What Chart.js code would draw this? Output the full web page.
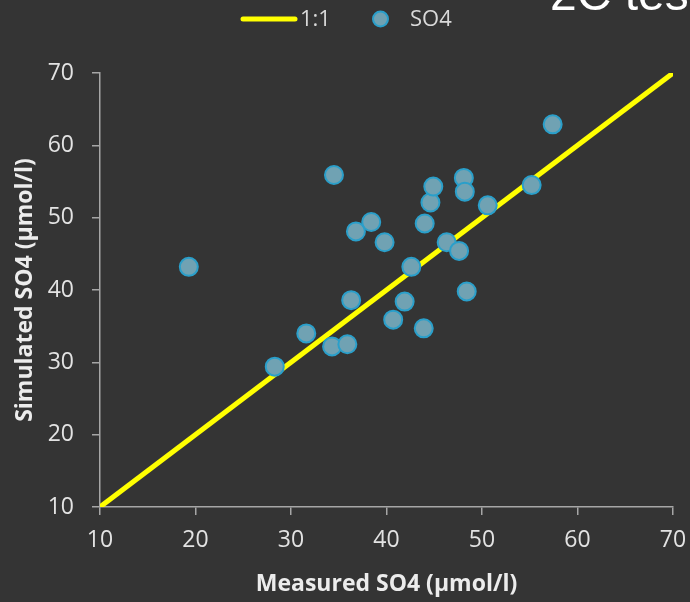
<!DOCTYPE html>
<html>
<head>
<meta charset="utf-8">
<script src="https://cdn.jsdelivr.net/npm/chart.js@4.4.0/dist/chart.umd.min.js"></script>
<style>
  html, body { margin: 0; padding: 0; background: #343434; }
  #wrap { position: relative; width: 690px; height: 602px; }
</style>
</head>
<body>
<div id="wrap"><canvas id="c" width="690" height="602"></canvas></div>
<script>
// ---- data ----
const measuredSO4 = [19.3, 28.3, 31.6, 34.5, 34.3, 35.9, 36.3, 36.8, 38.4, 39.8, 40.7, 41.9, 42.6, 44.0, 43.9, 44.6, 44.9, 46.3, 47.6, 48.1, 48.2, 48.4, 50.6, 55.2, 57.4];
const simulatedSO4 = [43.2, 29.4, 34.0, 55.9, 32.2, 32.5, 38.6, 48.1, 49.4, 46.6, 35.9, 38.4, 43.2, 49.2, 34.7, 52.1, 54.3, 46.6, 45.4, 55.5, 53.6, 39.8, 51.7, 54.5, 62.9];
const oneToOneX = [10, 70];
const oneToOneY = [10, 70];
const axisMin = 10, axisMax = 70, axisStep = 10;
const seriesNames = ['1:1', 'SO4'];
const xTitle = 'Measured SO4 (µmol/l)';
const yTitle = 'Simulated SO4 (µmol/l)';
const cornerText = '2C test';

const textColor = '#e3e3e3';
const axisColor = '#a6a6a6';
const pointFill = '#70a2b3';
const pointBorder = '#2a9fca';
const lineColor = '#ffff00';

const legendAndCorner = {
  id: 'legendAndCorner',
  afterDraw(chart) {
    const ctx = chart.ctx;
    ctx.save();
    // legend: line sample
    ctx.strokeStyle = lineColor;
    ctx.lineWidth = 5;
    ctx.lineCap = 'round';
    ctx.beginPath();
    ctx.moveTo(243, 19);
    ctx.lineTo(295, 19);
    ctx.stroke();
    ctx.fillStyle = '#d9d9d9';
    ctx.font = '22px "Open Sans"';
    ctx.textBaseline = 'middle';
    ctx.textAlign = 'left';
    ctx.fillText(seriesNames[0], 300, 20);
    // legend: point sample
    ctx.beginPath();
    ctx.arc(380.5, 19, 7.5, 0, Math.PI * 2);
    ctx.fillStyle = pointFill;
    ctx.fill();
    ctx.lineWidth = 2;
    ctx.strokeStyle = pointBorder;
    ctx.stroke();
    ctx.fillStyle = '#d9d9d9';
    ctx.fillText(seriesNames[1], 410, 20);
    // cropped corner text
    ctx.fillStyle = '#ffffff';
    ctx.font = '48px "Liberation Sans"';
    ctx.textBaseline = 'alphabetic';
    ctx.fillText(cornerText, 550, 10);
    ctx.restore();
  }
};

const bg = {
  id: 'bg',
  beforeDraw(chart) {
    const ctx = chart.ctx;
    ctx.save();
    ctx.fillStyle = '#343434';
    ctx.fillRect(0, 0, chart.width, chart.height);
    ctx.restore();
  }
};

const tickFont = { family: '"Open Sans"', size: 23 };
const titleFont = { family: '"Open Sans"', size: 23, weight: 'bold' };

new Chart(document.getElementById('c'), {
  type: 'scatter',
  data: {
    datasets: [
      {
        label: seriesNames[0],
        type: 'line',
        data: oneToOneX.map((x, i) => ({ x, y: oneToOneY[i] })),
        borderColor: lineColor,
        borderWidth: 5,
        pointRadius: 0,
        fill: false,
        order: 2
      },
      {
        label: seriesNames[1],
        data: measuredSO4.map((x, i) => ({ x, y: simulatedSO4[i] })),
        backgroundColor: pointFill,
        borderColor: pointBorder,
        borderWidth: 2,
        pointRadius: 9,
        pointHoverRadius: 9,
        order: 1
      }
    ]
  },
  options: {
    responsive: false,
    animation: false,
    layout: { padding: { top: 73, right: 17, left: 0, bottom: 0 } },
    plugins: { legend: { display: false }, tooltip: { enabled: false } },
    scales: {
      x: {
        type: 'linear',
        min: axisMin, max: axisMax,
        ticks: { stepSize: axisStep, color: textColor, font: tickFont, padding: 12 },
        grid: { display: true, drawOnChartArea: false, drawTicks: true, tickLength: 8, color: axisColor, lineWidth: 1.5 },
        border: { display: true, color: axisColor, width: 1.5 },
        title: { display: true, text: xTitle, color: '#ececec', font: titleFont, padding: { top: 0, bottom: 4 } },
        afterFit(scale) { scale.height = 95; scale.paddingRight = 0; scale.paddingLeft = 0; }
      },
      y: {
        type: 'linear',
        min: axisMin, max: axisMax,
        ticks: { stepSize: axisStep, color: textColor, font: tickFont, padding: 18 },
        grid: { display: true, drawOnChartArea: false, drawTicks: true, tickLength: 8, color: axisColor, lineWidth: 1.5 },
        border: { display: true, color: axisColor, width: 1.5 },
        title: { display: true, text: yTitle, color: '#ececec', font: titleFont, padding: { top: 12, bottom: 0 } },
        afterFit(scale) { scale.width = 100; }
      }
    }
  },
  plugins: [bg, legendAndCorner]
});
</script>
</body>
</html>
